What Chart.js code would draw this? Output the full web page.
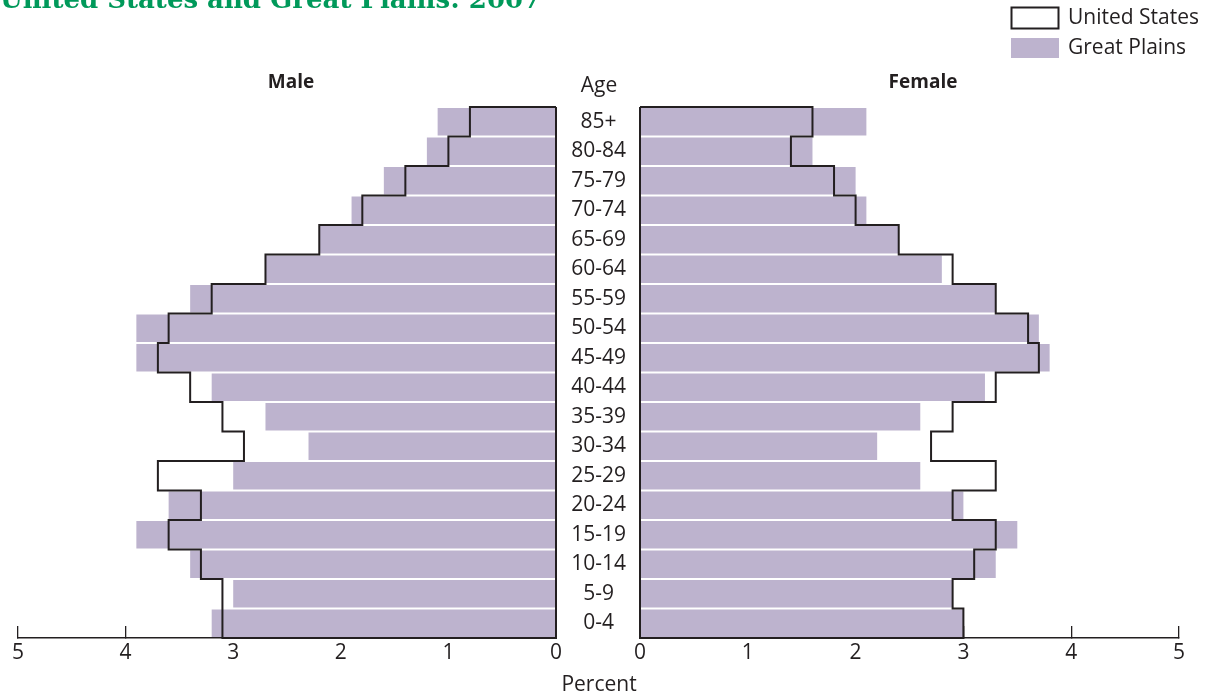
<!DOCTYPE html>
<html>
<head>
<meta charset="utf-8">
<script src="https://cdn.jsdelivr.net/npm/chart.js@4.4.0/dist/chart.umd.min.js"></script>
<style>
  html, body { margin: 0; padding: 0; background: #fff; }
  #wrap { position: relative; width: 1216px; height: 698px; overflow: hidden; }
  .pane { position: absolute; top: 0; height: 698px; }
</style>
</head>
<body>
<div id="wrap">
  <div class="pane" style="left:0;width:570px"><canvas id="maleChart"></canvas></div>
  <div class="pane" style="left:556px;width:660px"><canvas id="femaleChart"></canvas></div>
</div>
<script>
// Age groups, top of the pyramid first
var ageGroups = ["85+", "80-84", "75-79", "70-74", "65-69", "60-64", "55-59", "50-54", "45-49",
                 "40-44", "35-39", "30-34", "25-29", "20-24", "15-19", "10-14", "5-9", "0-4"];

// Percent of population
var maleUS   = [0.8, 1.0, 1.4, 1.8, 2.2, 2.7, 3.2, 3.6, 3.7, 3.4, 3.1, 2.9, 3.7, 3.3, 3.6, 3.3, 3.1, 3.1];
var maleGP   = [1.1, 1.2, 1.6, 1.9, 2.2, 2.7, 3.4, 3.9, 3.9, 3.2, 2.7, 2.3, 3.0, 3.6, 3.9, 3.4, 3.0, 3.2];
var femaleUS = [1.6, 1.4, 1.8, 2.0, 2.4, 2.9, 3.3, 3.6, 3.7, 3.3, 2.9, 2.7, 3.3, 2.9, 3.3, 3.1, 2.9, 3.0];
var femaleGP = [2.1, 1.6, 2.0, 2.1, 2.4, 2.8, 3.3, 3.7, 3.8, 3.2, 2.6, 2.2, 2.6, 3.0, 3.5, 3.3, 2.9, 3.0];

var percentTicks = [0, 1, 2, 3, 4, 5];

var ink = "#231f20";
var plainsColor = "#bdb3ce";
var fontFamily = "'Open Sans', sans-serif";

// Step outline of the US profile: each age row becomes a vertical segment
// on a hidden linear row axis (row i spans i..i+1)
function outlinePoints(values) {
    var pts = [{ x: 0, y: 0 }];
    values.forEach(function(v, i) {
        pts.push({ x: v, y: i });
        pts.push({ x: v, y: i + 1 });
    });
    pts.push({ x: 0, y: values.length });
    pts.push({ x: 0, y: 0 });
    return pts;
}

// Draws the loose text items (title, headings, legend)
var pageText = {
    id: "pageText",
    afterDraw: function(chart, args, opts) {
        var ctx = chart.ctx;
        ctx.save();
        (opts.items || []).forEach(function(t) {
            ctx.font = t.font;
            ctx.fillStyle = t.color || ink;
            ctx.textAlign = t.align || "center";
            ctx.textBaseline = t.baseline || "middle";
            ctx.fillText(t.text, t.x, t.y);
        });
        if (opts.legend) {
            var lg = opts.legend;
            chart.data.datasets.forEach(function(ds, i) {
                var y = lg.y + i * lg.step;
                if (ds.type === "line") {
                    ctx.strokeStyle = ink;
                    ctx.lineWidth = 2;
                    ctx.strokeRect(lg.x + 0.5, y - 10.5, 47, 21);
                } else {
                    ctx.fillStyle = ds.backgroundColor;
                    ctx.fillRect(lg.x, y - 10, 48, 20);
                }
                ctx.fillStyle = ink;
                ctx.font = "21px " + fontFamily;
                ctx.textAlign = "left";
                ctx.textBaseline = "middle";
                ctx.fillText(ds.label, lg.x + 57, y);
            });
        }
        ctx.restore();
    }
};

function xAxis(reverse) {
    return {
        type: "linear",
        axis: "x",
        position: "bottom",
        min: 0,
        max: 5,
        reverse: reverse,
        afterBuildTicks: function(scale) {
            scale.ticks = percentTicks.map(function(v) { return { value: v }; });
        },
        afterFit: function(scale) { scale.height = 60; },
        grid: { drawOnChartArea: false, drawTicks: true, tickLength: -12, color: ink, lineWidth: 1.3 },
        border: { display: true, color: ink, width: 1.5 },
        ticks: { color: ink, padding: 14, font: { family: fontFamily, size: 21 }, maxRotation: 0 }
    };
}

function buildChart(canvasId, us, gp, side) {
    var isMale = side === "male";
    var scales = {
        x: xAxis(isMale),
        y: {
            type: "category",
            axis: "y",
            offset: true,
            display: !isMale,
            position: "left",
            afterFit: function(scale) { if (!isMale) scale.width = 84; },
            grid: { display: false, drawTicks: false },
            border: { display: false },
            ticks: { color: ink, padding: 14, crossAlign: "center", font: { family: fontFamily, size: 21 } }
        },
        yRows: { type: "linear", axis: "y", position: "left", display: false, offset: false,
                 grid: { offset: false }, min: 0, max: ageGroups.length, reverse: true }
    };

    var textItems;
    var legend = null;
    if (isMale) {
        textItems = [
            { text: "United States and Great Plains: 2007", x: 0, y: 8, align: "left", baseline: "alphabetic",
              font: "bold 26px 'DejaVu Serif', serif", color: "#00995a" },
            { text: "Male", x: 291, y: 83, font: "bold 19px " + fontFamily }
        ];
    } else {
        textItems = [
            { text: "Female", x: 367, y: 83, font: "bold 19px " + fontFamily },
            { text: "Age", x: 43, y: 86, font: "21px " + fontFamily },
            { text: "Percent", x: 43, y: 685, font: "21px " + fontFamily }
        ];
        legend = { x: 455, y: 18, step: 30 };
    }

    return new Chart(document.getElementById(canvasId), {
        type: "bar",
        data: {
            labels: ageGroups,
            datasets: [
                {
                    type: "line",
                    label: "United States",
                    data: outlinePoints(us),
                    xAxisID: "x",
                    yAxisID: "yRows",
                    indexAxis: "x",
                    parsing: false,
                    borderColor: ink,
                    borderWidth: 2,
                    pointRadius: 0,
                    fill: false,
                    tension: 0,
                    clip: false,
                    order: 0
                },
                {
                    type: "bar",
                    label: "Great Plains",
                    data: gp,
                    xAxisID: "x",
                    yAxisID: "y",
                    backgroundColor: plainsColor,
                    borderWidth: 0,
                    grouped: false,
                    barPercentage: 0.93,
                    categoryPercentage: 1,
                    order: 1
                }
            ]
        },
        options: {
            indexAxis: "y",
            responsive: true,
            maintainAspectRatio: false,
            animation: false,
            layout: { padding: isMale ? { left: 18, right: 14, top: 107, bottom: 0 }
                                      : { left: 0, right: 37, top: 107, bottom: 0 } },
            scales: scales,
            plugins: {
                legend: { display: false },
                tooltip: { enabled: false },
                pageText: { items: textItems, legend: legend }
            }
        },
        plugins: [pageText]
    });
}

buildChart("maleChart", maleUS, maleGP, "male");
buildChart("femaleChart", femaleUS, femaleGP, "female");
</script>
</body>
</html>
